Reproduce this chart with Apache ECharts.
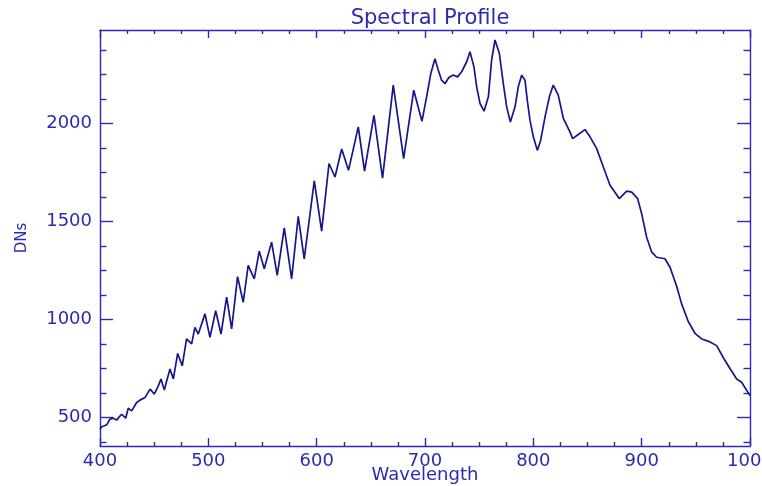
<!DOCTYPE html>
<html><head><meta charset="utf-8">
<script src="https://cdn.jsdelivr.net/npm/echarts@6/dist/echarts.min.js"></script>
<style>html,body{margin:0;padding:0;background:#fff}#c{width:762px;height:486px}</style>
</head><body><div id="c"></div>
<script>
const wavelengths = [400,401.6,404,406.2,409.2,412.3,415.4,418,420,423.7,426.1,429.2,433.8,436.9,441.5,446.2,450.1,453.8,456.3,459.4,461.6,464.6,467.7,471.7,475.9,479.9,484.6,487.6,490.7,496.9,501.5,506.8,511.7,516.9,521.5,527,532.2,536.8,542.4,547,551.6,558.4,563.6,570.1,576.9,583,588.5,597.8,604.6,611.4,616.9,623.1,629.4,638.4,644.2,652.9,660.8,670.7,680.3,689.6,697.2,701.5,705.4,709.2,712.3,715.3,718.5,722,726.1,730,733.8,738.5,741.5,745.2,747.7,750.8,754.5,758.5,761.5,764.6,768.6,772.3,775.4,778.8,783.1,786.1,789.3,792.3,794.4,796.9,800,803.7,806.8,810.8,814.8,818.4,823,827.7,833.8,836.3,840.5,847.7,852.3,858.5,864.6,870.8,879.3,886.2,890.8,896.3,900,904.6,909.2,913.8,921.5,926.2,932.3,936.9,943,949.2,955.4,963.1,969.2,975.4,981.5,987.7,992.3,998.4,1000];
const dns = [441,453,458,463,492,497,487,505,517,497,548,534,577,589,602,645,620,662,697,640,688,748,697,827,764,901,876,960,926,1029,909,1045,926,1114,952,1219,1088,1276,1208,1349,1259,1395,1225,1468,1208,1526,1310,1707,1451,1796,1727,1870,1761,1983,1757,2042,1721,2196,1821,2170,2012,2136,2256,2330,2272,2221,2204,2235,2247,2238,2264,2315,2366,2289,2187,2102,2063,2136,2324,2426,2358,2204,2085,2008,2085,2187,2247,2221,2119,2017,1932,1863,1915,2034,2136,2196,2145,2026,1957,1923,1940,1969,1932,1872,1778,1685,1617,1655,1650,1617,1540,1420,1345,1318,1310,1267,1170,1080,990,930,901,886,867,805,750,697,680,626,612];
const yMajorTicks = [500,1000,1500,2000];
const yMinorTicks = [375,625,750,875,1125,1250,1375,1625,1750,1875,2125,2250,2375];
const xMin = 400, xMax = 1000, xStep = 100;
const yMin = 355, yMax = 2477;

const C = '#2b2bb0', LINE = '#15158c', FONT = 'DejaVu Sans';
const chart = echarts.init(document.getElementById('c'), null, {renderer:'canvas'});
const pts = wavelengths.map((w,i)=>[w,dns[i]]);
const fmt = v => String(v);
function yAx(pos, ticks, len, labels, line){
  return {type:'value', position:pos, min:yMin, max:yMax,
    axisLine:{show:line, onZero:false, lineStyle:{color:C, width:1.4}},
    axisTick:{show:true, inside:true, length:len, customValues:ticks, lineStyle:{color:C, width:1.4}},
    axisLabel:{show:labels, customValues:ticks, formatter:fmt, color:C, fontFamily:FONT, fontSize:18, margin:8},
    splitLine:{show:false},
    name: labels ? 'DNs' : '', nameLocation:'middle', nameGap:70, nameMoveOverlap:false,
    nameTextStyle:{color:C, fontFamily:FONT, fontSize:15}};
}
function xAx(pos, labels){
  return {type:'value', position:pos, min:xMin, max:xMax, interval:xStep,
    axisLine:{show:true, onZero:false, lineStyle:{color:C, width:1.4}},
    axisTick:{show:true, inside:true, length:8, lineStyle:{color:C, width:1.4}},
    minorTick:{show:true, splitNumber:4, length:4, lineStyle:{color:C, width:1.4}},
    axisLabel:{show:labels, formatter:fmt, color:C, fontFamily:FONT, fontSize:18, margin:6, showMinLabel:true, showMaxLabel:true, hideOverlap:false},
    splitLine:{show:false}, minorSplitLine:{show:false},
    name: labels ? 'Wavelength' : '', nameLocation:'middle', nameGap:20, nameMoveOverlap:false,
    nameTextStyle:{color:C, fontFamily:FONT, fontSize:18}};
}
chart.setOption({
  animation:false,
  backgroundColor:'#ffffff',
  title:{text:'Spectral Profile', left:425, top:3, textAlign:'center',
    textStyle:{color:C, fontFamily:FONT, fontSize:21, fontWeight:'normal'}},
  grid:{left:100, right:12, top:30, bottom:40, containLabel:false, outerBoundsMode:'none'},
  xAxis:[xAx('bottom', true), xAx('top', false)],
  yAxis:[yAx('left', yMajorTicks, 13, true, true), yAx('left', yMinorTicks, 6.5, false, false),
         yAx('right', yMajorTicks, 13, false, true), yAx('right', yMinorTicks, 6.5, false, false)],
  series:[{type:'line', data:pts, xAxisIndex:0, yAxisIndex:0, showSymbol:false, symbol:'none',
    lineStyle:{color:LINE, width:1.7}, clip:true}]
});
</script></body></html>
